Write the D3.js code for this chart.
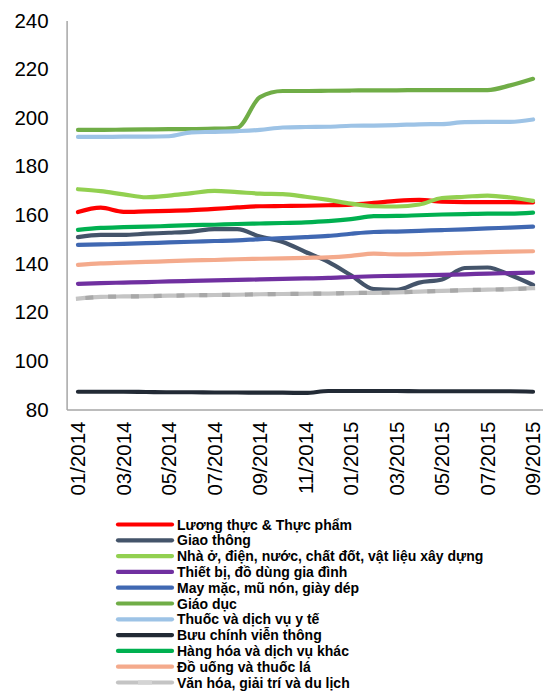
<!DOCTYPE html>
<html>
<head>
<meta charset="utf-8">
<script src="https://cdn.jsdelivr.net/npm/d3@7/dist/d3.min.js"></script>
<style>
  html, body { margin: 0; padding: 0; background: #fff; }
  svg { display: block; }
  text { font-family: "Liberation Sans", Arial, sans-serif; fill: #000; }
</style>
</head>
<body>
<svg id="chart" width="543" height="691"></svg>
<script>
// Monthly consumer price index by group, 01/2014 – 09/2015
const months = ["01/2014","02/2014","03/2014","04/2014","05/2014","06/2014","07/2014","08/2014","09/2014","10/2014","11/2014","12/2014",
                "01/2015","02/2015","03/2015","04/2015","05/2015","06/2015","07/2015","08/2015","09/2015"];
const monthTicks = ["01/2014","03/2014","05/2014","07/2014","09/2014","11/2014","01/2015","03/2015","05/2015","07/2015","09/2015"];
const yTicks = [80, 100, 120, 140, 160, 180, 200, 220, 240];

const seriesNames = [
  "Lương thực & Thực phẩm",
  "Giao thông",
  "Nhà ở, điện, nước, chất đốt, vật liệu xây dựng",
  "Thiết bị, đồ dùng gia đình",
  "May mặc, mũ nón, giày dép",
  "Giáo dục",
  "Thuốc và dịch vụ y tế",
  "Bưu chính viễn thông",
  "Hàng hóa và dịch vụ khác",
  "Đồ uống và thuốc lá",
  "Văn hóa, giải trí và du lịch"
];
const seriesColors = ["#ff0000","#44546a","#92d050","#7030a0","#4068b2","#70ad47","#9dc3e6","#222a35","#00b050","#f4aa8c","#c4c4c4"];

const luongThuc = [161.2,163.0,161.3,161.5,161.7,162.0,162.5,163.1,163.6,163.7,163.8,164.0,164.3,165.0,165.8,166.2,165.5,165.3,165.3,165.3,165.2];
const giaoThong = [150.9,151.8,151.8,152.3,152.7,153.2,154.2,154.2,151.1,148.9,144.8,140.7,135.2,129.5,129.2,132.2,133.5,138.2,138.4,135.3,131.2];
const nhaO      = [170.6,169.8,168.5,167.3,168.0,169.0,169.9,169.4,168.8,168.6,167.5,166.2,164.7,163.6,163.5,164.3,167.0,167.5,168.0,167.2,165.8];
const thietBi   = [131.7,132.0,132.2,132.4,132.7,132.9,133.1,133.3,133.5,133.7,133.9,134.1,134.5,134.8,135.0,135.2,135.4,135.6,135.9,136.1,136.3];
const mayMac    = [147.7,147.9,148.1,148.4,148.7,149.0,149.3,149.6,150.1,150.5,150.9,151.4,152.3,153.0,153.2,153.5,153.8,154.1,154.5,154.8,155.2];
const giaoDuc   = [195.0,195.0,195.1,195.2,195.3,195.3,195.5,195.9,208.5,211.0,211.0,211.1,211.2,211.3,211.3,211.4,211.4,211.4,211.4,213.3,216.0];
const thuoc     = [192.1,192.1,192.2,192.2,192.4,194.0,194.2,194.5,195.0,196.0,196.2,196.3,196.7,196.8,197.0,197.3,197.4,198.2,198.3,198.3,199.3];
const buuChinh  = [87.3,87.3,87.3,87.2,87.1,87.1,87.0,87.0,86.9,86.9,86.8,87.6,87.6,87.6,87.6,87.5,87.5,87.5,87.5,87.5,87.3];
const hangHoa   = [153.9,154.7,155.0,155.2,155.5,155.8,156.0,156.3,156.5,156.7,157.0,157.5,158.3,159.5,159.6,159.9,160.2,160.4,160.6,160.6,161.0];
const doUong    = [139.5,140.1,140.4,140.7,141.0,141.3,141.5,141.8,142.0,142.2,142.4,142.6,143.2,144.1,143.8,143.9,144.2,144.5,144.7,144.9,145.1];
const vanHoa    = [125.6,126.3,126.5,126.6,126.8,127.0,127.1,127.2,127.4,127.5,127.6,127.7,127.9,128.0,128.2,128.5,128.8,129.1,129.3,129.5,129.9];

const seriesValues = [luongThuc, giaoThong, nhaO, thietBi, mayMac, giaoDuc, thuoc, buuChinh, hangHoa, doUong, vanHoa];

const svg = d3.select("#chart");

const plot = { left: 66.6, right: 544.4, top: 20.5, bottom: 409.5 };

const x = d3.scaleBand().domain(months).range([plot.left, plot.right]).paddingInner(0).paddingOuter(0);
const xc = d => x(d) + x.bandwidth() / 2;
const y = d3.scaleLinear().domain([80, 240]).range([plot.bottom, plot.top]);

// Y axis
const yAxis = svg.append("g")
  .attr("transform", `translate(${plot.left},0)`)
  .call(d3.axisLeft(y).tickValues(yTicks).tickSize(0).tickPadding(18).tickSizeOuter(0));
yAxis.select(".domain").attr("stroke", "#a6a6a6").attr("stroke-width", 1.5);
yAxis.selectAll("text").style("font-size", "20.5px").style("font-family", "'Liberation Sans', Arial, sans-serif");

// X axis with rotated month labels
const xAxis = svg.append("g")
  .attr("transform", `translate(0,${plot.bottom})`)
  .call(d3.axisBottom(x).tickValues(monthTicks).tickSize(0).tickSizeOuter(0));
xAxis.select(".domain").attr("stroke", "#a6a6a6").attr("stroke-width", 1.5);
xAxis.selectAll("text")
  .style("font-size", "20.5px")
  .style("font-family", "'Liberation Sans', Arial, sans-serif")
  .attr("text-anchor", "end")
  .attr("transform", "rotate(-90)")
  .attr("x", -12)
  .attr("y", 0)
  .attr("dy", "0.36em");

// Series lines
const line = d3.line()
  .x((d, i) => xc(months[i]))
  .y(d => y(d))
  .curve(d3.curveMonotoneX);

const linesG = svg.append("g");
seriesValues.forEach((vals, k) => {
  linesG.append("path")
    .attr("d", line(vals))
    .attr("fill", "none")
    .attr("stroke", seriesColors[k])
    .attr("stroke-width", 4.2)
    .attr("stroke-linecap", k === 10 ? "square" : "round")
    .attr("stroke-linejoin", "round");
  if (k === 10) {
    // darker dashes on the grey culture/entertainment line
    linesG.append("path")
      .attr("d", line(vals))
      .attr("fill", "none")
      .attr("stroke", "#a8a8a8")
      .attr("stroke-width", 4.2)
      .attr("stroke-dasharray", "8 14.8")
      .attr("stroke-dashoffset", -7.4);
  }
});

// Legend
const legend = svg.append("g");
const legX = 118, legLineLen = 54, legTextX = 177, legY0 = 524.5, legStep = 15.8;
seriesNames.forEach((name, k) => {
  const yy = legY0 + k * legStep;
  legend.append("line")
    .attr("x1", legX).attr("x2", legX + legLineLen)
    .attr("y1", yy).attr("y2", yy)
    .attr("stroke", seriesColors[k])
    .attr("stroke-width", 4.2)
    .attr("stroke-linecap", "round");
  if (k === 10) {
    legend.append("line")
      .attr("x1", legX + 20).attr("x2", legX + 34)
      .attr("y1", yy).attr("y2", yy)
      .attr("stroke", "#d4d4d4")
      .attr("stroke-width", 4.2);
  }
  legend.append("text")
    .attr("x", legTextX).attr("y", yy)
    .attr("dy", "0.36em")
    .style("font-size", "14px")
    .style("font-weight", "bold")
    .text(name);
});
</script>
</body>
</html>
